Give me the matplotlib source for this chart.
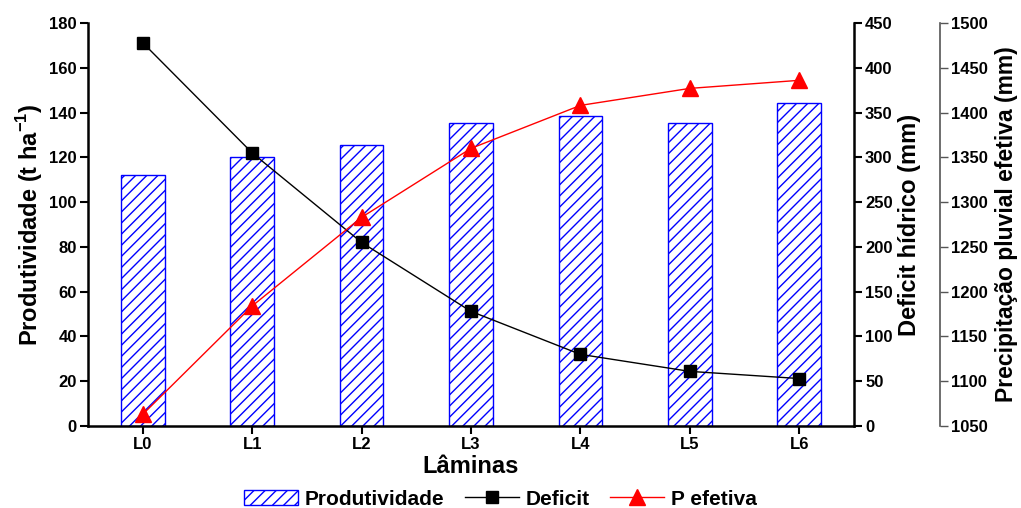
import matplotlib
matplotlib.use("Agg")
import matplotlib.pyplot as plt
from matplotlib.patches import Patch
from matplotlib.lines import Line2D
import numpy as np

plt.rcParams["font.family"] = ["Liberation Sans", "DejaVu Sans"]
plt.rcParams["font.weight"] = "bold"
plt.rcParams["mathtext.fontset"] = "custom"
plt.rcParams["mathtext.rm"] = "Liberation Sans:bold"
plt.rcParams["mathtext.bf"] = "Liberation Sans:bold"
plt.rcParams["hatch.linewidth"] = 1.0
plt.rcParams["hatch.color"] = "blue"

laminas = ["L0", "L1", "L2", "L3", "L4", "L5", "L6"]
produtividade = [112, 120, 125.5, 135.5, 138.5, 135.5, 144.3]
deficit = [428, 305, 205, 128, 80, 61, 53]
p_efetiva = [1063, 1184, 1283, 1360, 1408, 1427, 1436]

x = np.arange(len(laminas))

fig = plt.figure(figsize=(10.21, 5.08), dpi=100)
ax = fig.add_axes([0.0862, 0.1614, 0.7502, 0.7933])

ax.bar(x, produtividade, width=0.4, color="white", edgecolor="blue",
       hatch="///", linewidth=1.0, zorder=1)
ax.set_xlim(-0.5, 6.5)
ax.set_ylim(0, 180)
ax.set_yticks(range(0, 181, 20))
ax.set_xticks(x)
ax.set_xticklabels(laminas)
ax.set_ylabel(r"Produtividade (t ha$^{-1}$)", fontsize=17, fontweight="bold",
              labelpad=3)
ax.set_xlabel("Lâminas", fontsize=17, fontweight="bold", labelpad=2)

ax2 = ax.twinx()
ax2.plot(x, deficit, color="black", linewidth=1.0, marker="s",
         markersize=9, zorder=3)
ax2.set_ylim(0, 450)
ax2.set_yticks(range(0, 451, 50))
ax2.set_ylabel("Deficit hídrico (mm)", fontsize=17, fontweight="bold",
               labelpad=4)

ax3 = ax.twinx()
ax3.spines["right"].set_position(("axes", 1.1123))
ax3.plot(x, p_efetiva, color="red", linewidth=1.0, marker="^",
         markersize=11.5, zorder=3)
ax3.set_ylim(1050, 1500)
ax3.set_yticks(range(1050, 1501, 50))
ax3.set_ylabel("Precipitação pluvial efetiva (mm)", fontsize=16.5,
               fontweight="bold", labelpad=5)
ax3.spines["right"].set_color("#555555")

for a in (ax, ax2, ax3):
    a.spines["top"].set_visible(False)
    a.tick_params(labelsize=12, width=1.5, length=6, pad=2)
    for lbl in a.get_yticklabels() + a.get_xticklabels():
        lbl.set_fontweight("bold")

ax.spines["left"].set_linewidth(1.8)
ax.spines["bottom"].set_linewidth(1.8)
ax.spines["right"].set_visible(False)
ax2.spines["right"].set_linewidth(1.8)
ax2.spines["left"].set_visible(False)
ax2.spines["bottom"].set_visible(False)
ax3.spines["left"].set_visible(False)
ax3.spines["bottom"].set_visible(False)
ax3.spines["right"].set_linewidth(1.2)
ax3.tick_params(width=1.0, color="#555555")

handles = [
    Patch(facecolor="white", edgecolor="blue", hatch="///", label="Produtividade"),
    Line2D([], [], color="black", linewidth=1.0, marker="s", markersize=9,
           label="Deficit"),
    Line2D([], [], color="red", linewidth=1.0, marker="^", markersize=11.5,
           label="P efetiva"),
]
fig.legend(handles=handles, loc="lower center", ncol=3, frameon=False,
           bbox_to_anchor=(0.49, -0.038), prop={"size": 15, "weight": "bold"},
           handlelength=2.6, columnspacing=1.0, handletextpad=0.3)

fig.savefig("out.png", dpi=100)
